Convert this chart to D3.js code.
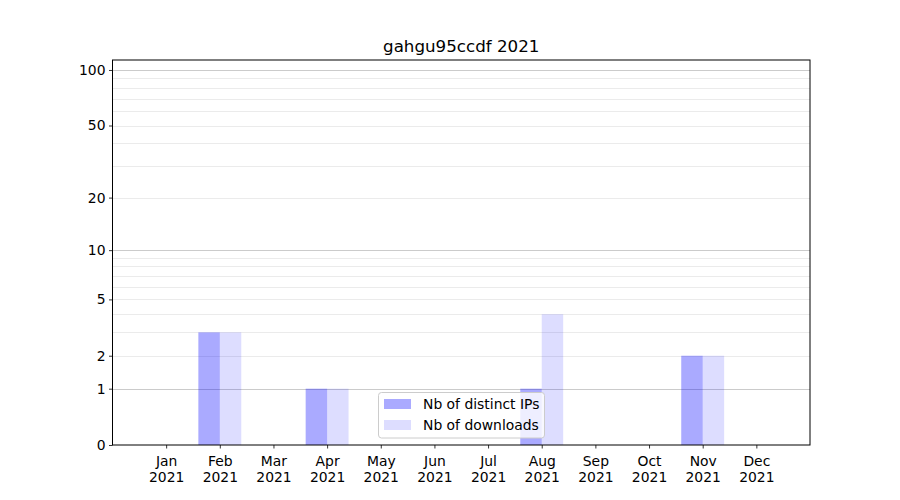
<!DOCTYPE html>
<html>
<head>
<meta charset="utf-8">
<script src="https://cdn.jsdelivr.net/npm/d3@7"></script>
<style>
  body { margin: 0; background: #fff; }
  svg { display: block; font-family: "DejaVu Sans", sans-serif; }
</style>
</head>
<body>
<svg id="chart" width="900" height="500"></svg>
<script>
const months = ["Jan","Feb","Mar","Apr","May","Jun","Jul","Aug","Sep","Oct","Nov","Dec"];
const year = "2021";
const distinctIPs = [0, 3, 0, 1, 0, 0, 0, 1, 0, 0, 2, 0];
const downloads = [0, 3, 0, 1, 0, 0, 0, 4, 0, 0, 2, 0];
const yTicks = [0, 1, 2, 5, 10, 20, 50, 100];
const majorGrid = [1, 10, 100];
const minorGrid = [2, 3, 4, 5, 6, 7, 8, 9, 20, 30, 40, 50, 60, 70, 80, 90];
const title = "gahgu95ccdf 2021";
const seriesNames = ["Nb of distinct IPs", "Nb of downloads"];

const svg = d3.select("#chart");
const m = { left: 112.5, right: 810, top: 60, bottom: 445 };

const x = d3.scaleLinear().domain([-1, 12]).range([m.left, m.right]);
const y = d3.scaleSymlog().constant(1).domain([0, 113.2]).range([m.bottom, m.top]);
const barW = 0.4;

const g = svg.append("g");

// grid
g.selectAll("line.minor").data(minorGrid).enter().append("line")
  .attr("x1", m.left).attr("x2", m.right)
  .attr("y1", d => Math.round(y(d)) + 0.5).attr("y2", d => Math.round(y(d)) + 0.5)
  .attr("stroke", "#ebebeb").attr("stroke-width", 1);
g.selectAll("line.major").data(majorGrid).enter().append("line")
  .attr("x1", m.left).attr("x2", m.right)
  .attr("y1", d => Math.round(y(d)) + 0.5).attr("y2", d => Math.round(y(d)) + 0.5)
  .attr("stroke", "#cbcbcb").attr("stroke-width", 1);

// bars
g.selectAll("rect.ip").data(distinctIPs).enter().append("rect")
  .attr("x", (d, i) => x(i - barW))
  .attr("width", (d, i) => x(i) - x(i - barW))
  .attr("y", d => y(d))
  .attr("height", d => y(0) - y(d))
  .attr("fill", "blue").attr("fill-opacity", 0.333);
g.selectAll("rect.dl").data(downloads).enter().append("rect")
  .attr("x", (d, i) => x(i))
  .attr("width", (d, i) => x(i + barW) - x(i))
  .attr("y", d => y(d))
  .attr("height", d => y(0) - y(d))
  .attr("fill", "blue").attr("fill-opacity", 0.135);

// axes
const yAxis = d3.axisLeft(y).tickValues(yTicks).tickFormat(d3.format("d")).tickSizeOuter(0).tickSize(3.5).tickPadding(3.5);
const ya = svg.append("g").attr("transform", `translate(${m.left},0)`).call(yAxis);
ya.select(".domain").remove();
ya.selectAll("text").attr("font-size", "13.9px").attr("fill", "#000").attr("font-family", "DejaVu Sans");
ya.selectAll("line").attr("stroke", "#000").attr("stroke-width", 0.8);

const xAxis = d3.axisBottom(x).tickValues(d3.range(12)).tickFormat(() => "").tickSizeOuter(0).tickSize(3.5);
const xa = svg.append("g").attr("transform", `translate(0,${m.bottom})`).call(xAxis);
xa.select(".domain").remove();
xa.selectAll("line").attr("stroke", "#000").attr("stroke-width", 0.8);
xa.selectAll(".tick").each(function(d) {
  const t = d3.select(this).append("text")
    .attr("fill", "#000").attr("font-size", "13.9px").attr("text-anchor", "middle")
    .attr("font-family", "DejaVu Sans");
  t.append("tspan").attr("x", 0).attr("y", 21).text(months[d]);
  t.append("tspan").attr("x", 0).attr("y", 37).text(year);
});

// frame
svg.append("rect")
  .attr("x", m.left).attr("y", m.top)
  .attr("width", m.right - m.left).attr("height", m.bottom - m.top)
  .attr("fill", "none").attr("stroke", "#000").attr("stroke-width", 1);

// title
svg.append("text")
  .attr("x", (m.left + m.right) / 2).attr("y", 52)
  .attr("text-anchor", "middle").attr("font-size", "16.7px").attr("fill", "#000")
  .text(title);

// legend
const lg = svg.append("g").attr("transform", "translate(378,392)");
lg.append("rect").attr("x", 0.5).attr("y", 0.5).attr("width", 166).attr("height", 45.5)
  .attr("rx", 3).attr("fill", "#fff").attr("fill-opacity", 0.8)
  .attr("stroke", "#cccccc").attr("stroke-width", 1);
const opac = [0.333, 0.135];
seriesNames.forEach((s, i) => {
  lg.append("rect").attr("x", 6).attr("y", 7 + i * 21).attr("width", 27).attr("height", 10)
    .attr("fill", "blue").attr("fill-opacity", opac[i]);
  lg.append("text").attr("x", 45).attr("y", 17 + i * 21)
    .attr("font-size", "13.9px").attr("fill", "#000").text(s);
});
</script>
</body>
</html>
